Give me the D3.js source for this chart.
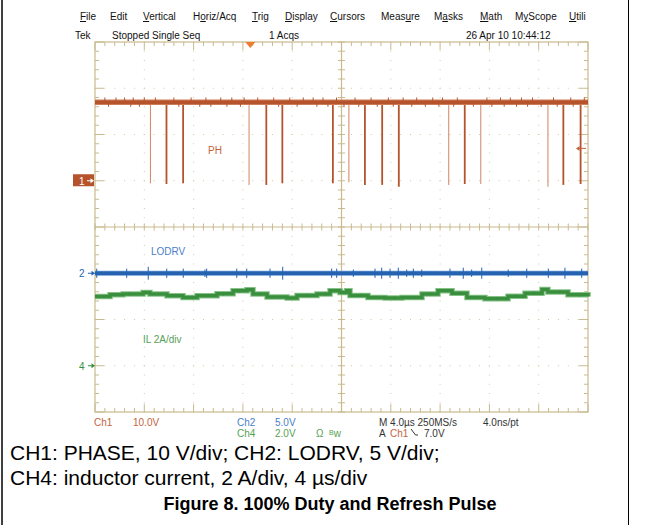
<!DOCTYPE html>
<html>
<head>
<meta charset="utf-8">
<script src="https://cdn.jsdelivr.net/npm/d3@7"></script>
<style>
  body { margin: 0; background: #fff; }
  svg { display: block; }
  text { font-family: "Liberation Sans", Arial, sans-serif; }
</style>
</head>
<body>
<svg id="scope" width="650" height="525"></svg>
<script>
// ---- data ----
const menuItems = ["File", "Edit", "Vertical", "Horiz/Acq", "Trig", "Display", "Cursors", "Measure", "Masks", "Math", "MyScope", "Utili"];
const menuUnderline = [0, -1, 0, 1, 0, 0, 0, 4, 1, 0, 1, 0];

// CH1 PHASE (V) vs time (us)
const phLevel = 17.0;
const phDipTimes = [-15.5, -14.2, -12.85, -7.5, -6.1, -4.8, -0.7, 0.6, 1.9, 3.3, 4.65, 8.7, 10.0, 11.3, 16.75, 18.0, 19.4];
const phDipLows  = [-0.55, -0.7, -0.55, -0.9, -0.9, -0.55, -0.55, -0.35, -0.9, -0.9, -1.3, -0.9, -0.7, -0.7, -1.3, -0.9, -0.7];
const phDipFaint = [1, 0, 0, 1, 0, 0, 0, 1, 0, 0, 0, 1, 0, 1, 1, 0, 0];
const phNoiseUpTimes = [-19.2, -18.3, -17.6, -16.9, -16.0, -15.1, -13.6, -12.2, -11.0, -9.8, -8.9, -7.9, -6.8, -5.5, -4.2, -3.1, -2.3, -1.5, -0.4, 1.1, 2.4, 3.8, 5.0, 6.1, 7.4, 8.2, 9.4, 11.8, 12.9, 13.7, 14.6, 15.5, 17.2, 18.6, 19.7];
const phNoiseDownTimes = [-18.9, -17.1, -16.4, -13.2, -11.5, -10.6, -9.3, -8.2, -5.1, -3.6, -2.0, -1.1, 0.2, 1.4, 2.9, 4.2, 5.7, 6.8, 7.9, 9.1, 10.7, 12.2, 13.2, 14.2, 15.1, 16.2, 17.5, 18.8];
const phNoiseV = 1.0;

// CH2 LODRV (V)
const loLevel = 0;
const loSpikeTimes = [-19.86, -17.43, -15.68, -14.18, -12.84, -11.08, -10.94, -8.5, -7.69, -5.8, -4.77, -0.8, -0.39, 0.96, 2.72, 3.26, 3.94, 4.61, 5.29, 5.83, 6.51, 8.8, 9.88, 10.56, 11.38, 13.53, 15.03, 16.78, 18.13, 19.49];
const loSpikeVolts = [0.5, 0.5, 0.7, 0.5, 0.5, 0.4, 0.5, 0.5, 0.5, 0.5, 0.7, 0.5, 0.5, 0.4, 0.5, 0.6, 0.5, 0.6, 0.4, 0.5, 0.4, 0.5, 0.6, 0.4, 0.6, 0.4, 0.5, 0.5, 0.6, 0.5];

// CH4 inductor current (A)
const ilTimes = [-20, -18.78, -17.73, -16.1, -15.54, -14.16, -12.86, -11.72, -10.1, -8.8, -7.67, -7.18, -6.04, -4.42, -3.61, -1.99, -0.93, -0.12, 0.42, 0.69, 2.15, 3.53, 4.91, 6.53, 7.83, 8.97, 10.18, 11.64, 13.51, 14.89, 16.27, 16.75, 18.38, 20];
const ilAmps  = [3.0, 3.07, 3.10, 3.17, 3.10, 3.03, 2.95, 3.03, 3.11, 3.24, 3.29, 3.10, 2.97, 2.93, 3.04, 3.10, 3.24, 3.17, 3.24, 3.04, 2.95, 2.93, 2.95, 3.10, 3.24, 3.14, 2.95, 2.90, 3.01, 3.14, 3.30, 3.19, 3.07, 3.0];
const ilNoiseTimes = [-17.2, -15.9, -13.9, -12.1, -9.6, -8.3, -6.6, -5.0, -2.8, -1.3, 0.1, 1.6, 4.3, 6.0, 7.2, 9.6, 12.6, 14.2, 15.6, 17.7, 19.3];
const ilNoiseA = 0.07;

const trigTime = -7.4;   // us
const trigLevel = 7.0;   // V on CH1

const captionLines = ["CH1: PHASE, 10 V/div; CH2: LODRV, 5 V/div;", "CH4: inductor current, 2 A/div, 4 \u00b5s/div"];
const figTitle = "Figure 8. 100% Duty and Refresh Pulse";

// ---- colours ----
const gratColor = "#c9ba8e", dotColor = "#d3c7a2";
const phColor = "#b5532c", phFaint = "#d58f70";
const loColor = "#2563b0", ilColor = "#3a8f3e";
const phText = "#c4643c", loText = "#4b80c8", ilText = "#57a157";

const svg = d3.select("#scope");

// time axis: 4 us/div, 10 div; vertical: 8 div
const x = d3.scaleLinear().domain([-20, 20]).range([95, 588]);
const yDiv = d3.scaleLinear().domain([-4, 4]).range([412, 42]);
const y1 = v => yDiv(1 + v / 10);    // CH1 10 V/div, ground +1 div
const y2 = v => yDiv(-1 + v / 5);    // CH2 5 V/div, ground -1 div
const y4 = a => yDiv(-3 + a / 2);    // CH4 2 A/div, ground -3 div

// ---- outer frame ----
svg.append("line").attr("x1", 2).attr("x2", 2).attr("y1", 0).attr("y2", 525).attr("stroke", "#000").attr("stroke-width", 1.5);
svg.append("line").attr("x1", 628.5).attr("x2", 628.5).attr("y1", 0).attr("y2", 525).attr("stroke", "#000").attr("stroke-width", 1);

// ---- menu + status line ----
const menuX = [80, 110, 143, 193, 252, 285, 330, 381, 434, 480, 515, 569];
const menu = svg.append("g").attr("font-size", 10).attr("fill", "#111");
menuItems.forEach((m, i) => {
    const t = menu.append("text").attr("x", menuX[i]).attr("y", 20);
    const u = menuUnderline[i];
    if (u < 0) { t.text(m); return; }
    t.append("tspan").text(m.slice(0, u));
    t.append("tspan").attr("text-decoration", "underline").text(m[u]);
    t.append("tspan").text(m.slice(u + 1));
});
const status = svg.append("g").attr("font-size", 10).attr("fill", "#111");
status.append("text").attr("x", 75).attr("y", 39).text("Tek");
status.append("text").attr("x", 112).attr("y", 39).text("Stopped  Single Seq");
status.append("text").attr("x", 269).attr("y", 39).text("1 Acqs");
status.append("text").attr("x", 466).attr("y", 39).text("26 Apr 10 10:44:12");

// ---- graticule ----
const grat = svg.append("g");
const minorX = d3.range(-20, 20.001, 0.8);
const minorY = d3.range(-4, 4.001, 0.2);
const majorX = d3.range(-16, 16.001, 4).filter(d => d !== 0);
const majorY = d3.range(-3, 3.001, 1).filter(d => d !== 0);

// dotted lines
majorX.forEach(t => {
    grat.selectAll(null).data(minorY).join("rect")
        .attr("x", x(t) - 0.5).attr("y", d => yDiv(d) - 0.5).attr("width", 1).attr("height", 1)
        .attr("fill", dotColor);
});
majorY.forEach(dv => {
    grat.selectAll(null).data(minorX).join("rect")
        .attr("x", d => x(d) - 0.5).attr("y", yDiv(dv) - 0.5).attr("width", 1).attr("height", 1)
        .attr("fill", dotColor);
});
// border
grat.append("rect").attr("x", x(-20)).attr("y", yDiv(4)).attr("width", x(20) - x(-20)).attr("height", yDiv(-4) - yDiv(4))
    .attr("fill", "none").attr("stroke", gratColor).attr("stroke-width", 1.2);
// centre cross
grat.append("line").attr("x1", x(-20)).attr("x2", x(20)).attr("y1", yDiv(0)).attr("y2", yDiv(0)).attr("stroke", gratColor).attr("stroke-width", 1.2);
grat.append("line").attr("x1", x(0)).attr("x2", x(0)).attr("y1", yDiv(4)).attr("y2", yDiv(-4)).attr("stroke", gratColor).attr("stroke-width", 1.2);

const isMajorX = t => Math.abs(t / 4 - Math.round(t / 4)) < 1e-6;
const isMajorY = d => Math.abs(d - Math.round(d)) < 1e-6;
// ticks on cross
grat.selectAll(".cxt").data(minorX).join("line").attr("class", "cxt")
    .attr("x1", d => x(d)).attr("x2", d => x(d))
    .attr("y1", yDiv(0) - 3.5).attr("y2", yDiv(0) + 3.5).attr("stroke", gratColor);
grat.selectAll(".cyt").data(minorY).join("line").attr("class", "cyt")
    .attr("y1", d => yDiv(d)).attr("y2", d => yDiv(d))
    .attr("x1", x(0) - 3.5).attr("x2", x(0) + 3.5).attr("stroke", gratColor);
// ticks on border
grat.selectAll(".tt").data(minorX).join("line").attr("class", "tt")
    .attr("x1", d => x(d)).attr("x2", d => x(d))
    .attr("y1", yDiv(4)).attr("y2", d => yDiv(4) + (isMajorX(d) ? 8 : 4)).attr("stroke", gratColor);
grat.selectAll(".bt").data(minorX).join("line").attr("class", "bt")
    .attr("x1", d => x(d)).attr("x2", d => x(d))
    .attr("y1", yDiv(-4)).attr("y2", d => yDiv(-4) - (isMajorX(d) ? 8 : 4)).attr("stroke", gratColor);
grat.selectAll(".lt").data(minorY).join("line").attr("class", "lt")
    .attr("y1", d => yDiv(d)).attr("y2", d => yDiv(d))
    .attr("x1", x(-20)).attr("x2", d => x(-20) + (isMajorY(d) ? 9 : 4)).attr("stroke", gratColor);
grat.selectAll(".rt").data(minorY).join("line").attr("class", "rt")
    .attr("y1", d => yDiv(d)).attr("y2", d => yDiv(d))
    .attr("x1", x(20)).attr("x2", d => x(20) - (isMajorY(d) ? 9 : 4)).attr("stroke", gratColor);

// ---- CH4 inductor current ----
const ilLine = d3.line().x(d => x(d[0])).y(d => y4(d[1])).curve(d3.curveStepAfter);
const ilData = ilTimes.map((t, i) => [t, ilAmps[i]]);
svg.append("path").attr("d", ilLine(ilData)).attr("fill", "none").attr("stroke", "#86c287").attr("stroke-width", 5.5);
svg.append("path").attr("d", ilLine(ilData)).attr("fill", "none").attr("stroke", ilColor).attr("stroke-width", 3.5);
// small glitches on the current trace
const ilAt = t => ilAmps[Math.max(0, d3.bisectRight(ilTimes, t) - 1)];
svg.selectAll(".ilspk").data(ilNoiseTimes).join("line").attr("class", "ilspk")
    .attr("x1", d => x(d)).attr("x2", d => x(d))
    .attr("y1", d => y4(ilAt(d) + ilNoiseA)).attr("y2", d => y4(ilAt(d) - ilNoiseA))
    .attr("stroke", ilColor).attr("stroke-width", 1.2);

// ---- CH2 LODRV ----
svg.append("line").attr("x1", x(-20)).attr("x2", x(20)).attr("y1", y2(loLevel)).attr("y2", y2(loLevel))
    .attr("stroke", "#6a9ad6").attr("stroke-width", 5);
svg.append("line").attr("x1", x(-20)).attr("x2", x(20)).attr("y1", y2(loLevel)).attr("y2", y2(loLevel))
    .attr("stroke", loColor).attr("stroke-width", 3.5);
svg.selectAll(".lospk").data(loSpikeTimes).join("line").attr("class", "lospk")
    .attr("x1", d => x(d)).attr("x2", d => x(d))
    .attr("y1", (d, i) => y2(loLevel + loSpikeVolts[i])).attr("y2", (d, i) => y2(loLevel - loSpikeVolts[i]))
    .attr("stroke", loColor).attr("stroke-width", 1);

// ---- CH1 PHASE ----
svg.selectAll(".phdip").data(phDipTimes).join("line").attr("class", "phdip")
    .attr("x1", d => x(d)).attr("x2", d => x(d))
    .attr("y1", y1(phLevel)).attr("y2", (d, i) => y1(phDipLows[i]))
    .attr("stroke", (d, i) => phDipFaint[i] ? phFaint : phColor)
    .attr("stroke-width", (d, i) => phDipFaint[i] ? 1.1 : 1.8);
svg.append("line").attr("x1", x(-20)).attr("x2", x(20)).attr("y1", y1(phLevel)).attr("y2", y1(phLevel))
    .attr("stroke", "#cf7d58").attr("stroke-width", 5.5);
svg.append("line").attr("x1", x(-20)).attr("x2", x(20)).attr("y1", y1(phLevel)).attr("y2", y1(phLevel))
    .attr("stroke", phColor).attr("stroke-width", 3.5);
svg.selectAll(".phup").data(phNoiseUpTimes).join("line").attr("class", "phup")
    .attr("x1", d => x(d)).attr("x2", d => x(d))
    .attr("y1", y1(phLevel)).attr("y2", y1(phLevel + phNoiseV))
    .attr("stroke", phColor).attr("stroke-width", 1);
svg.selectAll(".phdn").data(phNoiseDownTimes).join("line").attr("class", "phdn")
    .attr("x1", d => x(d)).attr("x2", d => x(d))
    .attr("y1", y1(phLevel)).attr("y2", y1(phLevel - phNoiseV))
    .attr("stroke", phColor).attr("stroke-width", 1);

// ---- trace labels ----
svg.append("text").attr("x", 208).attr("y", 154).attr("font-size", 10).attr("fill", phText).text("PH");
svg.append("text").attr("x", 151).attr("y", 255).attr("font-size", 10).attr("fill", loText).text("LODRV");
svg.append("text").attr("x", 143).attr("y", 343).attr("font-size", 10).attr("fill", ilText).text("IL  2A/div");

// ---- channel markers ----
function arrowRight(g, xe, yy, col) {
    g.append("line").attr("x1", xe - 7).attr("x2", xe - 1).attr("y1", yy).attr("y2", yy).attr("stroke", col).attr("stroke-width", 1);
    g.append("path").attr("d", `M${xe},${yy}L${xe - 3.5},${yy - 2.5}L${xe - 3.5},${yy + 2.5}Z`).attr("fill", col);
}
const mk = svg.append("g");
mk.append("rect").attr("x", 73).attr("y", y1(0) - 6.5).attr("width", 21).attr("height", 12).attr("fill", phColor);
mk.append("text").attr("x", 79).attr("y", y1(0) + 4).attr("font-size", 10).attr("fill", "#fff").text("1");
arrowRight(mk, 94, y1(0), "#fff");
mk.append("text").attr("x", 79).attr("y", y2(0) + 4).attr("font-size", 10).attr("fill", loColor).text("2");
arrowRight(mk, 95, y2(0), loColor);
mk.append("text").attr("x", 79).attr("y", y4(0) + 4).attr("font-size", 10).attr("fill", ilColor).text("4");
arrowRight(mk, 95, y4(0), ilColor);

// trigger level arrow (right edge) and trigger position (top)
const ty = y1(trigLevel);
mk.append("line").attr("x1", 579).attr("x2", 586).attr("y1", ty).attr("y2", ty).attr("stroke", phText).attr("stroke-width", 1);
mk.append("path").attr("d", `M576,${ty}L579.5,${ty - 2.5}L579.5,${ty + 2.5}Z`).attr("fill", phText);
const tx = x(trigTime);
mk.append("path").attr("d", `M${tx - 5},${yDiv(4)}L${tx + 5},${yDiv(4)}L${tx},${yDiv(4) + 6}Z`).attr("fill", "#f07b2e");

// ---- bottom readout ----
const ro = svg.append("g").attr("font-size", 10);
ro.append("text").attr("x", 94).attr("y", 426).attr("fill", phText).text("Ch1");
ro.append("text").attr("x", 133).attr("y", 426).attr("fill", phText).text("10.0V");
ro.append("text").attr("x", 237).attr("y", 426).attr("fill", loText).text("Ch2");
ro.append("text").attr("x", 275).attr("y", 426).attr("fill", loText).text("5.0V");
ro.append("text").attr("x", 237).attr("y", 437).attr("fill", ilText).text("Ch4");
ro.append("text").attr("x", 275).attr("y", 437).attr("fill", ilText).text("2.0V");
ro.append("text").attr("x", 316).attr("y", 437).attr("fill", ilText).text("\u03a9");
const bw = ro.append("text").attr("x", 329).attr("y", 437).attr("fill", ilText);
bw.append("tspan").attr("font-size", 7).attr("dy", -2).text("B");
bw.append("tspan").attr("dy", 2).text("w");
ro.append("text").attr("x", 379).attr("y", 426).attr("fill", "#333").text("M 4.0\u00b5s 250MS/s");
ro.append("text").attr("x", 483).attr("y", 426).attr("fill", "#333").text("4.0ns/pt");
ro.append("text").attr("x", 379).attr("y", 437).attr("fill", "#333").text("A");
ro.append("text").attr("x", 390).attr("y", 437).attr("fill", phText).text("Ch1");
ro.append("path").attr("d", "M411,429L415.5,435L418,435").attr("fill", "none").attr("stroke", "#333").attr("stroke-width", 1);
ro.append("text").attr("x", 424).attr("y", 437).attr("fill", "#333").text("7.0V");

// ---- caption ----
const cap = svg.append("g").attr("fill", "#000");
cap.selectAll(".capl").data(captionLines).join("text").attr("class", "capl")
    .attr("x", 10).attr("y", (d, i) => 460 + i * 25).attr("font-size", 21).text(d => d);
cap.append("text").attr("x", 330).attr("y", 510).attr("text-anchor", "middle")
    .attr("font-size", 18).attr("font-weight", "bold").text(figTitle);
</script>
</body>
</html>
